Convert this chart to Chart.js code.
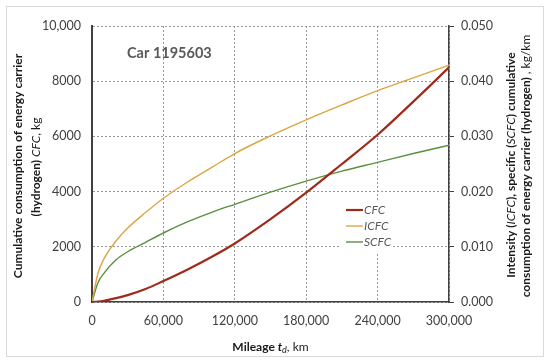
<!DOCTYPE html>
<html>
<head>
<meta charset="utf-8">
<script src="https://cdn.jsdelivr.net/npm/chart.js@4.4.1/dist/chart.umd.min.js"></script>
<style>
html, body { margin: 0; padding: 0; background: #fff; }
#wrap { position: relative; width: 550px; height: 362px; }
#frame { position: absolute; left: 6px; top: 6px; width: 538px; height: 351px; border: 1px solid #d9d9d9; box-sizing: border-box; }
canvas { position: absolute; left: 0; top: 0; }
</style>
</head>
<body>
<div id="wrap"><div id="frame"></div><canvas id="chart" width="550" height="362"></canvas></div>
<script>
// Data
const mileage = [0, 5000, 10000, 20000, 30000, 45000, 60000, 80000, 100000, 120000, 150000, 180000, 210000, 240000, 270000, 300000];
const cfc  = [0, 15, 45, 140, 250, 470, 760, 1170, 1620, 2120, 3000, 3960, 5000, 6060, 7260, 8500];
const icfc = [0, 0.0052, 0.0078, 0.0110, 0.0134, 0.0162, 0.0188, 0.0217, 0.0243, 0.0269, 0.0301, 0.0330, 0.0357, 0.0383, 0.0406, 0.0429];
const scfc = [0, 0.0035, 0.0052, 0.0076, 0.0091, 0.0108, 0.0125, 0.0145, 0.0162, 0.0177, 0.0199, 0.0219, 0.0237, 0.0253, 0.0269, 0.0284];

const xTicks = [0, 60000, 120000, 180000, 240000, 300000];
const leftTicks = [0, 2000, 4000, 6000, 8000, 10000];
const leftTickLabels = ['0', '2000', '4000', '6000', '8000', '10,000'];
const rightTicks = [0, 0.01, 0.02, 0.03, 0.04, 0.05];
const rightTickLabels = ['0.000', '0.010', '0.020', '0.030', '0.040', '0.050'];

const FONT = "Lato, 'Open Sans', sans-serif";
const AXIS = '#404040';
const GRID = '#999999';

function toPoints(values) {
    return mileage.map((m, i) => ({ x: m, y: values[i] }));
}

// Draw a line made of runs with different fonts, centred on (cx, cy)
function drawRuns(ctx, runs, cx, cy, angle) {
    ctx.save();
    ctx.translate(cx, cy);
    ctx.rotate(angle);
    let total = 0;
    runs.forEach(r => { ctx.font = r.font; total += ctx.measureText(r.text).width; });
    let x = -total / 2;
    ctx.textBaseline = 'middle';
    ctx.textAlign = 'left';
    runs.forEach(r => {
        ctx.font = r.font;
        ctx.fillStyle = r.color || '#1a1a1a';
        ctx.fillText(r.text, x, r.dy || 0);
        x += ctx.measureText(r.text).width;
    });
    ctx.restore();
}

const B = 'bold 12px ' + FONT;
const BI = 'italic bold 12px ' + FONT;
const R = '12px ' + FONT;
const I = 'italic 12px ' + FONT;

const annotations = {
    id: 'annotations',
    afterDraw(chart) {
        const ctx = chart.ctx;
        const area = chart.chartArea;
        const up = -Math.PI / 2;

        // left axis title
        drawRuns(ctx, [{ text: 'Cumulative consumption of energy carrier', font: B }], 18, 166, up);
        drawRuns(ctx, [{ text: '(hydrogen) ', font: B }, { text: 'CFC', font: I }, { text: ', kg', font: R }], 36, 167, up);

        // right axis title
        drawRuns(ctx, [
            { text: 'Intensity (', font: B }, { text: 'ICFC', font: I }, { text: '), specific (', font: B },
            { text: 'SCFC', font: I }, { text: ') cumulative', font: B }
        ], 511, 165, up);
        drawRuns(ctx, [{ text: 'consumption of energy carrier (hydrogen) ', font: B }, { text: ', kg/km', font: R }], 526, 166, up);

        // x axis title
        drawRuns(ctx, [
            { text: 'Mileage ', font: B }, { text: 't', font: BI },
            { text: 'd', font: 'italic 9px ' + FONT, dy: 3 }, { text: ', km', font: R }
        ], (area.left + area.right) / 2, 347, 0);

        // car label
        ctx.save();
        ctx.font = 'bold 14.5px ' + FONT;
        ctx.fillStyle = '#595959';
        ctx.textBaseline = 'middle';
        ctx.fillText('Car 1195603', 127, 53);
        ctx.restore();

        // legend
        ctx.save();
        ctx.fillStyle = '#fff';
        ctx.fillRect(340, 200, 53, 52);
        chart.data.datasets.forEach((ds, k) => {
            const y = 210 + k * 16;
            ctx.strokeStyle = ds.borderColor;
            ctx.lineWidth = ds.borderWidth;
            ctx.beginPath();
            ctx.moveTo(346, y);
            ctx.lineTo(363, y);
            ctx.stroke();
            ctx.font = I;
            ctx.fillStyle = '#595959';
            ctx.textBaseline = 'middle';
            ctx.fillText(ds.label, 364, y);
        });
        ctx.restore();
    }
};

new Chart(document.getElementById('chart'), {
    type: 'line',
    data: {
        datasets: [
            { label: 'CFC', data: toPoints(cfc), yAxisID: 'yL', borderColor: '#9e2a1b', borderWidth: 2.2 },
            { label: 'ICFC', data: toPoints(icfc), yAxisID: 'yR', borderColor: '#dca544', borderWidth: 1.4 },
            { label: 'SCFC', data: toPoints(scfc), yAxisID: 'yR', borderColor: '#5b8f3d', borderWidth: 1.4 }
        ]
    },
    options: {
        responsive: false,
        animation: false,
        elements: { point: { radius: 0 }, line: { cubicInterpolationMode: 'monotone', fill: false } },
        layout: { padding: { top: 26, left: 0, right: 0, bottom: 0 } },
        plugins: { legend: { display: false }, tooltip: { enabled: false } },
        scales: {
            x: {
                type: 'linear',
                min: 0,
                max: 300000,
                afterBuildTicks: s => { s.ticks = xTicks.map(v => ({ value: v })); },
                afterFit: s => { s.height = 60; },
                grid: { color: GRID, drawTicks: false },
                border: { color: AXIS, width: 1.5, dash: [2, 2] },
                ticks: {
                    padding: 11,
                    color: AXIS,
                    font: { family: FONT, size: 12.5 },
                    maxRotation: 0,
                    callback: v => v.toLocaleString('en-US')
                }
            },
            yL: {
                type: 'linear',
                position: 'left',
                min: 0,
                max: 10000,
                afterBuildTicks: s => { s.ticks = leftTicks.map(v => ({ value: v })); },
                afterFit: s => { s.width = 92; },
                grid: { color: GRID, drawTicks: false },
                border: { color: AXIS, width: 2, dash: [2, 2] },
                ticks: {
                    padding: 11,
                    color: AXIS,
                    font: { family: FONT, size: 12.5 },
                    callback: (v, i) => leftTickLabels[i]
                }
            },
            yR: {
                type: 'linear',
                position: 'right',
                min: 0,
                max: 0.05,
                afterBuildTicks: s => { s.ticks = rightTicks.map(v => ({ value: v })); },
                afterFit: s => { s.width = 101; },
                grid: { drawOnChartArea: false, color: AXIS, tickLength: 5 },
                border: { color: AXIS, width: 1.5 },
                ticks: {
                    padding: 7,
                    color: AXIS,
                    font: { family: FONT, size: 12.5 },
                    callback: (v, i) => rightTickLabels[i]
                }
            }
        }
    },
    plugins: [annotations]
});
</script>
</body>
</html>
